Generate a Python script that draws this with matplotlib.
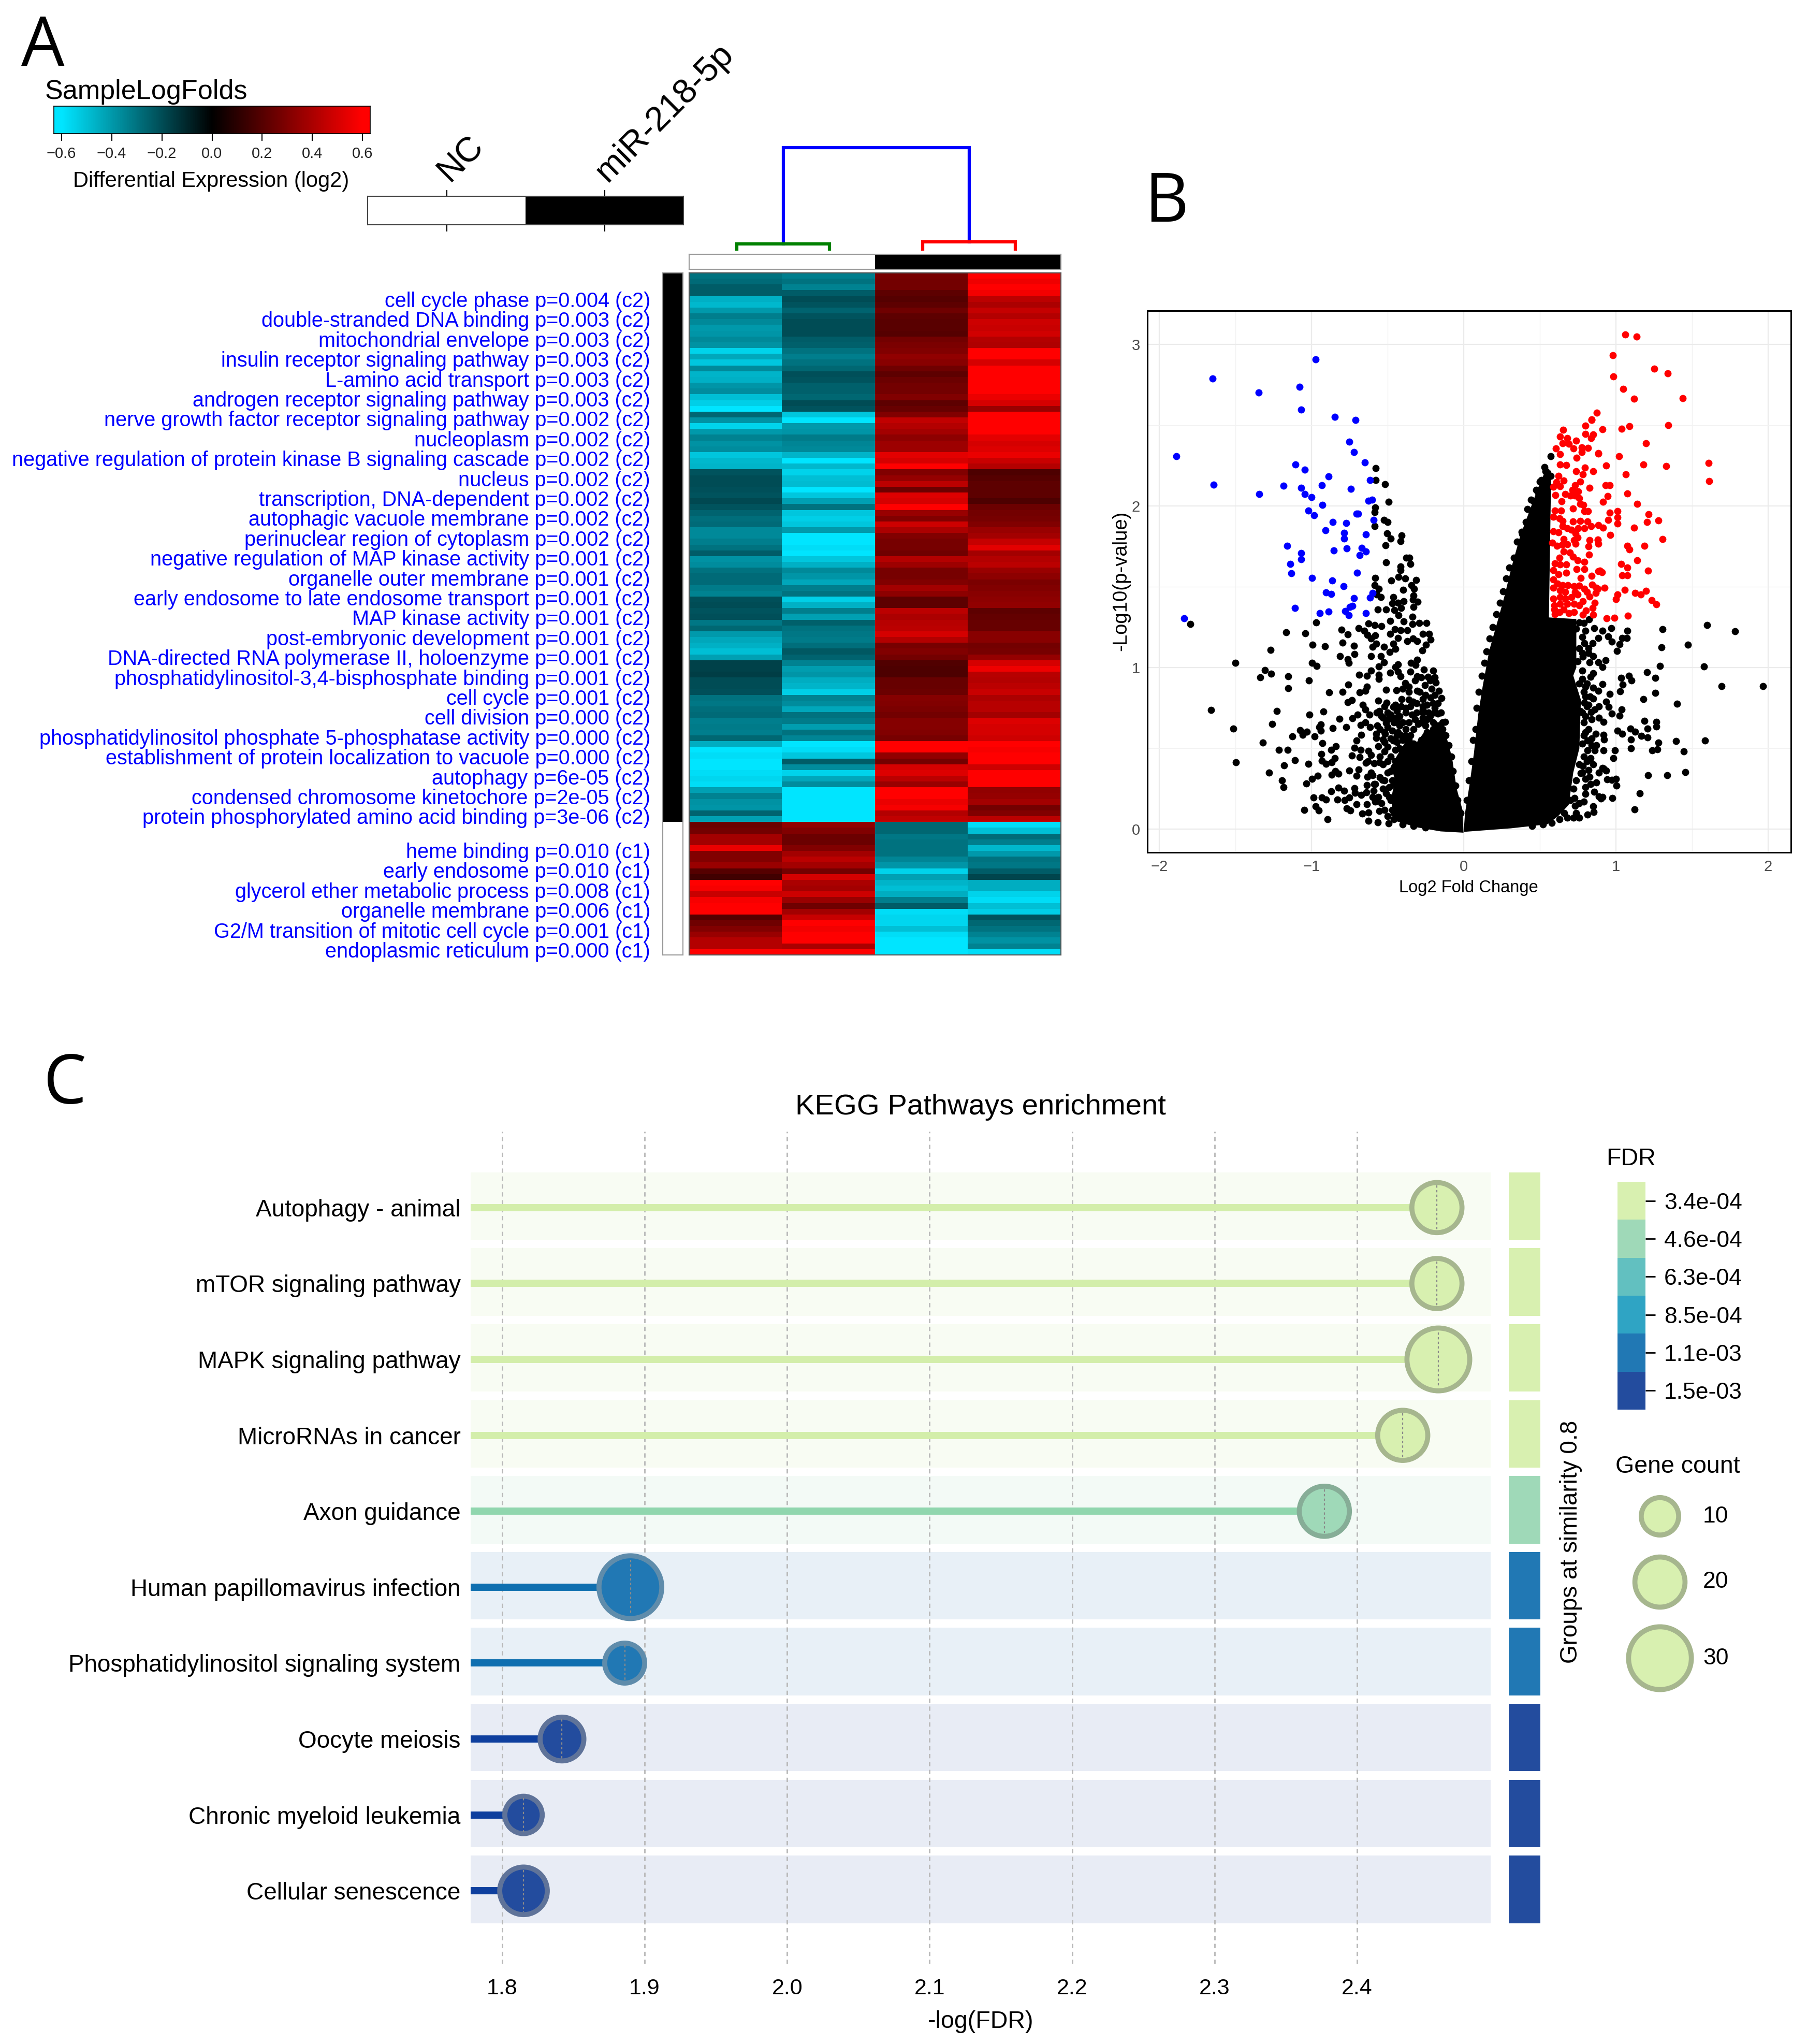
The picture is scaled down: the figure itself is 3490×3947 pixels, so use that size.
import matplotlib
matplotlib.use('Agg')
import matplotlib.pyplot as plt
from matplotlib.colors import LinearSegmentedColormap, ListedColormap
import numpy as np

plt.rcParams['font.family'] = ['Liberation Sans', 'DejaVu Sans']

W, H = 3490, 3947

# panel A
heat_labels_c2 = [
    'cell cycle phase p=0.004 (c2)', 'double-stranded DNA binding p=0.003 (c2)',
    'mitochondrial envelope p=0.003 (c2)', 'insulin receptor signaling pathway p=0.003 (c2)',
    'L-amino acid transport p=0.003 (c2)', 'androgen receptor signaling pathway p=0.003 (c2)',
    'nerve growth factor receptor signaling pathway p=0.002 (c2)', 'nucleoplasm p=0.002 (c2)',
    'negative regulation of protein kinase B signaling cascade p=0.002 (c2)', 'nucleus p=0.002 (c2)',
    'transcription, DNA-dependent p=0.002 (c2)', 'autophagic vacuole membrane p=0.002 (c2)',
    'perinuclear region of cytoplasm p=0.002 (c2)', 'negative regulation of MAP kinase activity p=0.001 (c2)',
    'organelle outer membrane p=0.001 (c2)', 'early endosome to late endosome transport p=0.001 (c2)',
    'MAP kinase activity p=0.001 (c2)', 'post-embryonic development p=0.001 (c2)',
    'DNA-directed RNA polymerase II, holoenzyme p=0.001 (c2)',
    'phosphatidylinositol-3,4-bisphosphate binding p=0.001 (c2)', 'cell cycle p=0.001 (c2)',
    'cell division p=0.000 (c2)', 'phosphatidylinositol phosphate 5-phosphatase activity p=0.000 (c2)',
    'establishment of protein localization to vacuole p=0.000 (c2)', 'autophagy p=6e-05 (c2)',
    'condensed chromosome kinetochore p=2e-05 (c2)', 'protein phosphorylated amino acid binding p=3e-06 (c2)',
]
heat_labels_c1 = [
    'heme binding p=0.010 (c1)', 'early endosome p=0.010 (c1)', 'glycerol ether metabolic process p=0.008 (c1)',
    'organelle membrane p=0.006 (c1)', 'G2/M transition of mitotic cell cycle p=0.001 (c1)',
    'endoplasmic reticulum p=0.000 (c1)',
]

nc1 = [-.3, -.28, -.24, -.24, -.46, -.48, -.4, -.33, -.36, -.4, -.39, -.36, -.38, -.55, -.44, -.52,
       -.36, -.47, -.46, -.39, -.37, -.5, -.54, -.6, -.27, -.38, -.55, -.4, -.34, -.38, -.37, -.52,
       -.48, -.47, -.22, -.2, -.2, -.21, -.22, -.19, -.22, -.26, -.29, -.28, -.36, -.36, -.33, -.3,
       -.24, -.38, -.37, -.3, -.28, -.28, -.32, -.34, -.21, -.2, -.22, -.21, -.31, -.27, -.4, -.44,
       -.46, -.5, -.42, -.17, -.17, -.16, -.2, -.2, -.21, -.3, -.31, -.29, -.28, -.33, -.32, -.33,
       -.27, -.45, -.6, -.58, -.6, -.6, -.58, -.56, -.58, -.42, -.34, -.38, -.39, -.26, -.42,
       .25, .27, .38, .38, .55, .3, .3, .36, .2, .15, .6, .58, .47, .58, .6, .6, .2, .26, .3, .36, .42, .42, .6]
nc2 = [-.33, -.3, -.34, -.24, -.2, -.22, -.26, -.22, -.2, -.2, -.2, -.24, -.25, -.3, -.33, -.3,
       -.27, -.21, -.22, -.25, -.25, -.27, -.2, -.22, -.52, -.6, -.4, -.39, -.32, -.35, -.36, -.47,
       -.6, -.48, -.55, -.5, -.49, -.6, -.52, -.42, -.3, -.52, -.54, -.52, -.4, -.6, -.6, -.58,
       -.6, -.52, -.46, -.36, -.39, -.44, -.33, -.3, -.54, -.46, -.33, -.42, -.25, -.3, -.31, -.32,
       -.29, -.23, -.26, -.34, -.41, -.39, -.45, -.47, -.54, -.34, -.37, -.44, -.3, -.32, -.41, -.3,
       -.35, -.6, -.58, -.52, -.24, -.37, -.55, -.44, -.37, -.6, -.6, -.6, -.6, -.6, -.6,
       .34, .3, .25, .25, .3, .38, .44, .38, .27, .5, .4, .38, .48, .36, .26, .38, .47, .6, .57, .6, .6, .4, .6]
mir1 = [.28, .27, .27, .22, .2, .22, .26, .22, .21, .21, .2, .27, .29, .3, .34, .32,
        .26, .22, .25, .27, .27, .3, .22, .24, .3, .45, .42, .38, .33, .37, .37, .53,
        .5, .6, .3, .35, .44, .25, .52, .5, .6, .36, .3, .48, .4, .3, .28, .28,
        .26, .42, .37, .28, .28, .3, .38, .33, .22, .22, .44, .4, .43, .44, .5, .42,
        .28, .3, .27, .19, .18, .18, .24, .24, .25, .31, .3, .29, .27, .31, .31, .3,
        .28, .6, .6, .34, .27, .5, .52, .44, .36, .6, .6, .55, .58, .42, .45,
        -.27, -.27, -.31, -.3, -.3, -.3, -.35, -.39, -.55, -.42, -.47, -.5, -.45, -.33, -.24, -.58, -.56, -.56, -.5, -.58, -.6, -.6, -.6]
mir2 = [.6, .56, .6, .57, .44, .4, .46, .42, .48, .47, .49, .42, .41, .6, .6, .5,
        .6, .6, .6, .6, .6, .55, .5, .36, .6, .6, .6, .6, .53, .5, .52, .55,
        .47, .42, .18, .2, .22, .22, .22, .18, .25, .27, .28, .3, .36, .38, .46, .53,
        .38, .42, .44, .36, .33, .29, .3, .32, .33, .34, .22, .23, .24, .24, .32, .32,
        .27, .28, .35, .5, .56, .43, .42, .44, .47, .4, .43, .43, .38, .52, .5, .5,
        .48, .6, .58, .6, .6, .48, .6, .6, .6, .34, .35, .38, .27, .3, .44,
        -.58, -.5, -.28, -.33, -.48, -.4, -.3, -.31, -.24, -.18, -.45, -.45, -.55, -.58, -.5, -.54, -.22, -.27, -.3, -.34, -.38, -.34, -.58]

row_cluster = [0] * 95 + [1] * 23
col_group = [1, 1, 0, 0]
sample_groups = [1, 0]
sample_names = ['NC', 'miR-218-5p']
cbar_ticks = [-0.6, -0.4, -0.2, 0.0, 0.2, 0.4, 0.6]

leaf_pos = [0.5, 1.5, 2.5, 3.5]
leaf_base = 0.04
merge_left = 0.086
merge_right = 0.105
merge_top = 0.932

# panel B
blue_pts = [(-.973, 2.907), (-1.65, 2.789), (-1.078, 2.738), (-1.348, 2.701), (-1.069, 2.596), (-.845, 2.551),
            (-.709, 2.532), (-.752, 2.397), (-.72, 2.333), (-1.888, 2.306), (-.651, 2.27), (-1.104, 2.255),
            (-1.043, 2.225), (-.889, 2.181), (-.616, 2.159), (-1.641, 2.132), (-.932, 2.127), (-1.182, 2.125),
            (-1.069, 2.113), (-.741, 2.105), (-1.342, 2.074), (-1.043, 2.074), (-.999, 2.054), (-.627, 2.032),
            (-.601, 2.039), (-.927, 2.005), (-1.02, 1.971), (-.982, 1.941), (-.703, 1.953), (-.693, 1.953),
            (-.593, 1.914), (-.86, 1.902), (-.773, 1.895), (-.909, 1.85), (-.787, 1.833), (-.787, 1.799),
            (-.642, 1.824), (-1.159, 1.752), (-.77, 1.738), (-.854, 1.725), (-.671, 1.74), (-.642, 1.718),
            (-.683, 1.694), (-1.069, 1.708), (-1.069, 1.669), (-1.139, 1.64), (-1.133, 1.583), (-.7, 1.588),
            (-.996, 1.556), (-.863, 1.539), (-.79, 1.502), (-.903, 1.466), (-.871, 1.456), (-.72, 1.431),
            (-.598, 1.461), (-.616, 1.434), (-.732, 1.382), (-.747, 1.375), (-1.107, 1.37), (-.944, 1.336),
            (-.886, 1.346), (-.778, 1.348), (-.755, 1.324), (-.642, 1.336), (-1.836, 1.306)]

red_outer = [(1.06, 3.061), (1.136, 3.049), (.979, 2.931), (.982, 2.801), (1.252, 2.848), (1.339, 2.821),
             (1.049, 2.723), (1.121, 2.662), (1.438, 2.667), (.874, 2.576), (.84, 2.534), (1.345, 2.5),
             (1.089, 2.493), (1.037, 2.478), (.799, 2.495), (.912, 2.473), (1.197, 2.387), (.883, 2.326),
             (1.02, 2.306), (1.182, 2.257), (.935, 2.25), (1.33, 2.248), (1.609, 2.267), (1.612, 2.154),
             (1.066, 2.194), (.932, 2.127), (.959, 2.127), (.828, 2.113), (1.075, 2.076), (.947, 2.061),
             (.915, 2.027), (1.139, 2.012), (.961, 1.958), (1.011, 1.968), (1.214, 1.949), (1.278, 1.909),
             (1.011, 1.929), (.95, 1.914), (1.011, 1.892), (1.206, 1.9), (1.118, 1.865), (.883, 1.882),
             (.915, 1.865), (.964, 1.819), (1.307, 1.794), (.88, 1.787), (1.188, 1.752), (1.075, 1.752),
             (1.089, 1.73), (1.139, 1.662), (1.034, 1.64), (1.075, 1.62), (1.211, 1.598), (1.04, 1.571),
             (1.075, 1.571), (.895, 1.6), (.909, 1.59), (.871, 1.493), (.924, 1.493), (1.057, 1.48),
             (1.197, 1.473), (1.127, 1.463), (1.162, 1.451), (1.011, 1.453), (.999, 1.424), (1.235, 1.417),
             (1.267, 1.392), (.938, 1.306), (.991, 1.309), (1.078, 1.321)]
red_dense = [(.654, 2.47), (.633, 2.428), (.682, 2.42), (.65, 2.388), (.69, 2.386), (.738, 2.404), (.722, 2.357),
             (.606, 2.357), (.775, 2.362), (.816, 2.359), (.776, 2.332), (.633, 2.321), (.743, 2.299), (.883, 2.324),
             (.798, 2.446), (.841, 2.533), (.849, 2.441), (.837, 2.419), (.633, 2.257), (.673, 2.253), (.796, 2.238),
             (.739, 2.213), (.852, 2.215), (.781, 2.195), (.624, 2.186), (.764, 2.151), (.658, 2.156), (.608, 2.148),
             (.588, 2.118), (.633, 2.123), (.733, 2.128), (.713, 2.098), (.752, 2.089), (.602, 2.067), (.667, 2.072),
             (.701, 2.064), (.73, 2.064), (.642, 2.03), (.76, 2.047), (.764, 2.014), (.786, 2.005), (.718, 1.985),
             (.599, 1.972), (.639, 1.972), (.792, 1.967), (.817, 1.968), (.588, 1.933), (.628, 1.922), (.65, 1.908),
             (.718, 1.905), (.764, 1.908), (.813, 1.905), (.837, 1.876), (.792, 1.863), (.752, 1.863), (.707, 1.854),
             (.679, 1.863), (.65, 1.876), (.59, 1.843), (.624, 1.838), (.735, 1.829), (.747, 1.804), (.724, 1.787),
             (.656, 1.796), (.582, 1.771), (.611, 1.754), (.645, 1.759), (.679, 1.762), (.735, 1.766), (.828, 1.787),
             (.881, 1.792), (.883, 1.766), (.82, 1.749), (.824, 1.699), (.656, 1.717), (.696, 1.712), (.718, 1.687),
             (.747, 1.662), (.792, 1.653), (.628, 1.678), (.599, 1.645), (.633, 1.637), (.673, 1.637), (.741, 1.608),
             (.792, 1.608), (.588, 1.603), (.622, 1.578), (.673, 1.586), (.769, 1.553), (.84, 1.568), (.883, 1.595),
             (.588, 1.544), (.616, 1.519), (.65, 1.511), (.684, 1.511), (.724, 1.502), (.758, 1.507), (.792, 1.486),
             (.843, 1.514), (.881, 1.486), (.588, 1.494), (.633, 1.477), (.667, 1.469), (.73, 1.469), (.809, 1.469),
             (.866, 1.46), (.828, 1.44), (.588, 1.427), (.633, 1.435), (.667, 1.427), (.707, 1.435), (.747, 1.452),
             (.781, 1.41), (.86, 1.402), (.594, 1.385), (.633, 1.393), (.679, 1.393), (.724, 1.393), (.758, 1.385),
             (.847, 1.368), (.599, 1.33), (.628, 1.343), (.656, 1.36), (.69, 1.335), (.724, 1.343), (.783, 1.326),
             (.803, 1.351), (.849, 1.326), (.594, 1.36)]

black_left = [(-.577, 2.235), (-.577, 2.16), (-.518, 2.135), (-.492, 2.026), (-.58, 1.989), (-.586, 1.96), (-.524, 1.913),
              (-.5, 1.9), (-.586, 1.875), (-.504, 1.83), (-.409, 1.818), (-.478, 1.799), (-.414, 1.781), (-.512, 1.757),
              (-.376, 1.679), (-.357, 1.679), (-.35, 1.64), (-.509, 1.652), (-.414, 1.625), (-.414, 1.603), (-.428, 1.56),
              (-.385, 1.55), (-.311, 1.543), (-.477, 1.54), (-.582, 1.553), (-.585, 1.511), (-.559, 1.486), (-.344, 1.511),
              (-.327, 1.486), (-.398, 1.481), (-.57, 1.452), (-.543, 1.436), (-.464, 1.436), (-.331, 1.444), (-.333, 1.419),
              (-.303, 1.407), (-.395, 1.41), (-.47, 1.399), (-.431, 1.402), (-.412, 1.369), (-.455, 1.357), (-.33, 1.374),
              (-.566, 1.36), (-.51, 1.36), (-.427, 1.325), (-.336, 1.313), (-.97, 1.28), (-1.797, 1.268), (-.482, 1.288),
              (-.393, 1.285), (-.624, 1.273), (-.585, 1.263), (-.542, 1.256), (-.292, 1.276), (-.246, 1.276), (-.337, 1.268),
              (-.691, 1.245), (-.803, 1.235), (-1.165, 1.219), (-1.042, 1.213), (-.654, 1.226), (-.453, 1.238), (-.414, 1.231),
              (-.372, 1.23), (-.483, 1.208), (-.763, 1.204), (-.633, 1.201), (-.581, 1.198), (-.608, 1.179), (-.431, 1.184),
              (-.372, 1.162), (-.333, 1.179), (-.307, 1.162), (-.268, 1.209), (-.229, 1.209), (-.216, 1.173), (-.249, 1.142),
              (-.797, 1.154), (-.992, 1.142), (-.91, 1.131), (-.721, 1.134), (-.573, 1.149), (-.6, 1.129), (-.525, 1.129),
              (-.464, 1.146), (-.448, 1.117), (-.271, 1.107), (-.486, 1.097), (-1.27, 1.11), (-.718, 1.084), (-.813, 1.072),
              (-.607, 1.072), (-.544, 1.072), (-.763, 1.05), (-.754, 1.03), (-1.501, 1.03), (-.997, 1.03), (-.965, 1.01),
              (-.525, 1.033), (-.557, 1.008), (-.307, 1.047), (-.346, 1.03), (-.316, 1.017), (-.431, 1.02), (-.448, 1.003),
              (-1.307, .983), (-1.266, .961), (-1.335, .94), (-1.152, .945), (-.686, .956), (-.635, .95), (-.608, .98),
              (-.557, .955), (-.557, .93), (-.483, .968), (-.431, .975), (-.414, .945), (-1.017, .92), (-1.152, .871),
              (-.758, .894), (-.884, .847), (-.797, .851), (-.685, .846), (-.637, .883), (-.646, .857), (-.51, .861),
              (-.443, .859), (-.385, .903), (-.349, .975), (-.262, .988), (-.2, .98), (-.307, .945), (-.236, .941),
              (-.36, .883), (-.307, .857), (-.255, .891), (-.184, .908), (-.164, .857), (-.561, .795), (-.763, .785),
              (-.733, .799), (-.505, .782), (-.409, .804), (-.333, .79), (-.268, .804), (-.145, .811), (-.216, .815),
              (-1.661, .737), (-1.228, .732), (-.923, .727), (-1.012, .71), (-.663, .769), (-.646, .74), (-.698, .707),
              (-.62, .707), (-.555, .732), (-.464, .757), (-.379, .749), (-.268, .74), (-.171, .715), (-.815, .683),
              (-.731, .687), (-.529, .69), (-.438, .69), (-.268, .69), (-1.258, .65), (-.939, .648), (-.949, .63),
              (-1.512, .623), (-.861, .625), (-.773, .63), (-.678, .645), (-.646, .661), (-.617, .631), (-.568, .64),
              (-.509, .656), (-.121, .665), (-1.076, .613), (-1.03, .603), (-1.056, .584), (-.939, .609), (-1.124, .573),
              (-.98, .573), (-.672, .583), (-.574, .589), (-.516, .589), (-.574, .564), (-.529, .556), (-.464, .547),
              (-.385, .581), (-1.319, .536), (-.928, .531), (-.704, .547), (-.561, .514), (-.841, .514), (-.872, .492),
              (-1.214, .492), (-1.155, .492), (-.717, .502), (-.678, .489), (-.626, .484), (-.609, .459), (-.935, .465),
              (-.736, .454), (-.682, .447), (-1.109, .427), (-.932, .422), (-.846, .438), (-.867, .413), (-.906, .405),
              (-1.496, .413), (-1.021, .405), (-1.18, .393), (-.643, .41), (-.587, .408), (-.555, .413), (-.691, .368),
              (-1.277, .351), (-.753, .363), (-.844, .358), (-.866, .338), (-.824, .343), (-.958, .33), (-.704, .33),
              (-.633, .325), (-.6, .335), (-.997, .311), (-1.193, .303), (-1.033, .283), (-1.182, .261), (-.636, .271),
              (-.587, .279), (-.535, .304), (-.717, .254), (-.822, .257), (-.87, .234), (-.786, .237), (-.59, .237),
              (-.714, .226), (-.987, .195), (-.932, .195), (-.906, .182), (-.828, .182), (-.783, .179), (-.75, .195),
              (-.672, .212), (-.639, .229), (-.971, .14), (-.952, .117), (-1.048, .12), (-.77, .127), (-.744, .115),
              (-.704, .154), (-.636, .154), (-.581, .17), (-.665, .095), (-.626, .103), (-.555, .112), (-.895, .061),
              (-.626, .053), (-.565, .043), (-.492, .036), (-.509, .22),
              (-.52, .76), (-.5, .72), (-.48, .71), (-.44, .73), (-.42, .7), (-.4, .66), (-.46, .66), (-.5, .63),
              (-.43, .6), (-.47, .61), (-.38, .62), (-.35, .58), (-.33, .62), (-.3, .65), (-.25, .64), (-.2, .66),
              (-.23, .72), (-.2, .78), (-.27, .76), (-.31, .78), (-.36, .8), (-.38, .72), (-.34, .71), (-.29, .85),
              (-.25, .83), (-.21, .87), (-.19, .83), (-.17, .78), (-.15, .72), (-.14, .66), (-.16, .61), (-.32, .92),
              (-.28, .94), (-.22, .92), (-.19, .94), (-.36, .85), (-.4, .87), (-.44, .54), (-.55, .45), (-.52, .48),
              (-.5, .51), (-.48, .45), (-.45, .42), (-.53, .4), (-.5, .35), (-.55, .32), (-.47, .3), (-.53, .25),
              (-.48, .18), (-.52, .12), (-.46, .1), (-.56, .2), (-.6, .2), (-.45, .49), (-.42, .5), (-.4, .55),
              (-.57, .72), (-.54, .7), (-.5, .68), (-.47, .69), (-.44, .66), (-.42, .64), (-.55, .62), (-.52, .6),
              (-.48, .56), (-.44, .58), (-.41, .58), (-.36, .66), (-.32, .68), (-.28, .66), (-.24, .68), (-.22, .7),
              (-.19, .72), (-.31, .72), (-.27, .72), (-.24, .77), (-.19, .75), (-.35, .76), (-.41, .76), (-.45, .77),
              (-.52, .54), (-.5, .42), (-.46, .38), (-.52, .3), (-.49, .26), (-.54, .16), (-.5, .08), (-.58, .28),
              (-.61, .35), (-.63, .42),
              (-.02, .1), (-.04, .18), (-.055, .27), (-.07, .36), (-.08, .45), (-.1, .52), (-.12, .58), (-.14, .62),
              (-.17, .64), (-.2, .62), (-.24, .6), (-.28, .55), (-.33, .53), (-.36, .55), (-.4, .48), (-.44, .42),
              (-.48, .36), (-.46, .28), (-.49, .2), (-.47, .12), (-.46, .06), (-.4, .03), (-.33, .02), (-.25, .01)]

black_right = [(.571, 2.309), (.54, 2.215), (.571, 2.185), (.537, 2.213), (.511, 2.159), (.488, 2.086), (.442, 2.037),
               (.386, 1.828), (1.308, 1.236), (1.598, 1.264), (1.782, 1.224), (1.472, 1.14), (1.298, 1.124), (1.29, 1.01),
               (1.58, 1.006), (1.206, .971), (1.259, .937), (1.036, .937), (1.084, .949), (1.104, .921), (1.045, .894),
               (1.027, .854), (1.695, .884), (1.968, .884), (1.26, .843), (.961, .837), (1.181, .803), (1.4, .777),
               (.935, .79), (.951, .756), (.974, .715), (1.039, .74), (1.025, .701), (1.186, .669), (1.266, .664),
               (1.266, .636), (1.209, .622), (1.01, .609), (1.042, .589), (1.096, .622), (1.127, .602), (1.166, .577),
               (1.207, .567), (1.1, .555), (1.28, .535), (1.396, .544), (1.587, .547), (1.1, .5), (1.238, .488),
               (1.274, .493), (1.447, .48), (.993, .487), (.985, .44), (1.21, .332), (1.337, .334), (1.455, .354),
               (1.004, .27), (.974, .304), (.943, .309), (1.002, .312), (.977, .193), (1.158, .22), (1.123, .123),
               (.917, .374), (.888, .351), (.911, .379), (.937, .361), (.911, .2), (.888, .203), (.903, .19),
               (.871, .289), (.858, .23), (.798, .219), (.849, .14), (.854, .106), (.813, .089), (.758, .071),
               (.733, .143), (.727, .192), (.82, .367), (.826, .325), (.781, .39), (.769, .345), (.798, .261),
               (.832, .279), (.917, .664), (.888, .689), (.86, .74), (.888, .76), (.837, .723), (.792, .781),
               (.764, .731), (.866, .589), (.917, .585), (.922, .555), (.813, .547), (.917, .488), (.86, .488),
               (.832, .44), (.813, .488), (.911, .899), (.883, .857), (.849, .874), (.849, .807), (.832, .941),
               (.798, .882), (.933, 1.046), (.883, 1.033), (.911, 1.004), (.849, 1.071), (.826, 1.033), (.849, .966),
               (.783, 1.066), (.911, 1.227), (.858, 1.243), (.883, 1.184), (.847, 1.15), (.949, 1.192), (.974, 1.159),
               (.971, 1.243), (1.025, 1.145), (1.008, 1.103), (1.042, 1.184), (1.076, 1.226), (1.072, 1.184),
               (.824, 1.298), (.79, 1.276), (.798, 1.226), (.792, 1.15),
               (.02, .18), (.035, .3), (.05, .42), (.06, .55), (.08, .62), (.085, .75), (.1, .85), (.12, .95),
               (.135, 1.03), (.15, 1.1), (.17, 1.18), (.19, 1.25), (.215, 1.33), (.24, 1.4), (.26, 1.47), (.28, 1.55),
               (.3, 1.62), (.33, 1.68), (.35, 1.78), (.38, 1.84), (.41, 1.9), (.42, 1.98), (.46, 2.03), (.475, 2.1),
               (.5, 2.15), (.53, 2.24),
               (.76, 1.28), (.74, 1.24), (.78, 1.19), (.76, 1.12), (.75, 1.04), (.78, .98), (.76, .9), (.8, .82),
               (.82, .77), (.79, .66), (.8, .6), (.78, .53), (.79, .45), (.76, .4), (.74, .3), (.72, .25), (.7, .18),
               (.66, .1), (.63, .06), (.58, .04), (.52, .03), (.45, .02),
               (.78, .93), (.81, .9), (.79, .85), (.83, .82), (.81, .76), (.84, .68), (.8, .7), (.78, .72), (.82, .62),
               (.79, .58), (.84, .56), (.87, .52), (.84, .52), (.81, .42), (.85, .4), (.78, .35), (.8, .31), (.79, .17),
               (.76, .16), (.74, .1), (.72, .07), (.68, .07), (.82, 1.12), (.78, 1.09), (.82, 1.09)]

# outlines of the areas where the dots merge into solid black
solid_left_x = [-.001, -.008, -.047, -.073, -.093, -.125, -.177, -.255, -.307, -.372, -.438, -.477, -.451, -.477, -.457, -.307, -.151]
solid_left_y = [-.022, .12, .254, .422, .506, .606, .623, .606, .539, .556, .455, .388, .304, .187, .053, .011, -.014]
solid_right_x = [0, .009, .038, .067, .096, .125, .168, .227, .27, .314, .372, .43, .488, .532, .575, .56, .74, .74, .72, .77, .76, .72, .69, .62, .55, .31]
solid_right_y = [-.017, .1, .272, .468, .713, .885, 1.105, 1.301, 1.449, 1.62, 1.816, 1.963, 2.11, 2.208, 2.22, 1.31, 1.3, 1.0, .95, .8, .5, .35, .15, .08, .03, .005]

# panel C
pathways = ['Autophagy - animal', 'mTOR signaling pathway', 'MAPK signaling pathway', 'MicroRNAs in cancer', 'Axon guidance',
            'Human papillomavirus infection', 'Phosphatidylinositol signaling system', 'Oocyte meiosis',
            'Chronic myeloid leukemia', 'Cellular senescence']
neg_log_fdr = [2.456, 2.456, 2.457, 2.432, 2.377, 1.89, 1.886, 1.842, 1.815, 1.815]
gene_count = [20, 20, 30, 20, 20, 30, 12, 15, 10, 18]
fdr_level = [0, 0, 0, 0, 1, 4, 4, 5, 5, 5]
fdr_colors = ['#d8f0b0', '#9fd9b8', '#62c0c0', '#2fa4c4', '#2178b4', '#234c9e']
fdr_stems = ['#d3eeaa', '#90d6ae', '#55bcbc', '#22a0c0', '#0f6fb0', '#0e3f9e']
fdr_edges = ['#a6b68e', '#86ad97', '#70a0a0', '#5a96ad', '#5f8cab', '#5f7399']
band_colors = ['#f8fcf3', '#f3faf6', '#f0f8f9', '#ebf6f9', '#e8f0f7', '#e8ecf5']
fdr_ticks = ['3.4e-04', '4.6e-04', '6.3e-04', '8.5e-04', '1.1e-03', '1.5e-03']
count_legend = [10, 20, 30]


def ax_px(x0, y0, x1, y1):
    return fig.add_axes([x0 / W, 1 - y1 / H, (x1 - x0) / W, (y1 - y0) / H])


def txt_px(x, y, s, **kw):
    return fig.text(x / W, 1 - y / H, s, **kw)


def bubble_area(count, width=7.0):
    # diameter in px grows with count, minus the edge that is drawn on top
    dia = 57.5 + 2.45 * np.asarray(count, dtype=float)
    return (dia * 0.72 - width) ** 2


fig = plt.figure(figsize=(W / 100, H / 100), dpi=100)
cmap = LinearSegmentedColormap.from_list('cb', ['#00e5ff', '#000000', '#ff0000'])
bw = ListedColormap(['black', 'white'])
border = '#9a9a9a'

txt_px(83, 93, 'A', fontsize=95, family='Open Sans', ha='center', va='center')
txt_px(2253, 394, 'B', fontsize=95, family='Open Sans', ha='center', va='center')
txt_px(126, 2097, 'C', fontsize=95, family='Open Sans', ha='center', va='center')

# colour key
ax = ax_px(104, 205, 715, 258)
ax.imshow(np.linspace(-.63, .63, 400)[None, :], cmap=cmap, vmin=-.6, vmax=.6, aspect='auto', extent=[-.63, .63, 0, 1])
ax.set_yticks([])
ax.set_xticks(cbar_ticks)
ax.set_xticklabels([('%.1f' % t).replace('-', '\u2212') for t in cbar_ticks], fontsize=21, color='#222222')
ax.tick_params(axis='x', length=10, width=1.5, pad=8)
for s in ax.spines.values():
    s.set_linewidth(1.2)
txt_px(87, 177, 'SampleLogFolds', fontsize=37.5, va='center')
txt_px(408, 350, 'Differential Expression (log2)', fontsize=30, ha='center', va='center')

# sample bar
ax = ax_px(710, 379, 1320, 434)
ax.imshow([sample_groups], cmap=bw, vmin=0, vmax=1, aspect='auto', extent=[0, 2, 0, 1])
ax.set_yticks([])
ax.set_xticks([0.5, 1.5])
ax.set_xticklabels([])
ax.tick_params(axis='x', length=9, width=1.5, top=True, bottom=True)
for s in ax.spines.values():
    s.set_color('#444444')
    s.set_linewidth(1.5)
for i, name in enumerate(sample_names):
    ax.text(i + 0.5 + 0.05, 1.3, name, fontsize=48, rotation=45, rotation_mode='anchor', ha='left', va='bottom', clip_on=False)

# dendrogram
ax = ax_px(1333, 270, 2051, 490)
ax.set_xlim(0, 4)
ax.set_ylim(0, 1)
ax.axis('off')
mid_l = (leaf_pos[0] + leaf_pos[1]) / 2
mid_r = (leaf_pos[2] + leaf_pos[3]) / 2
ax.plot([mid_l, mid_l, mid_r, mid_r], [merge_left, merge_top, merge_top, merge_right], color='#0000ff', lw=4.5, solid_joinstyle='miter')
ax.plot([leaf_pos[0], leaf_pos[0], leaf_pos[1], leaf_pos[1]], [leaf_base, merge_left, merge_left, leaf_base], color='#008000', lw=4.5, solid_joinstyle='miter')
ax.plot([leaf_pos[2], leaf_pos[2], leaf_pos[3], leaf_pos[3]], [leaf_base, merge_right, merge_right, leaf_base], color='#ff0000', lw=4.5, solid_joinstyle='miter')

# group bars and heatmap
ax = ax_px(1331, 491, 2049, 520)
ax.imshow([col_group], cmap=bw, vmin=0, vmax=1, aspect='auto')
ax.set_xticks([])
ax.set_yticks([])
for s in ax.spines.values():
    s.set_color(border)
    s.set_linewidth(1.5)

ax = ax_px(1280, 527, 1319, 1844)
ax.imshow(np.array(row_cluster)[:, None], cmap=bw, vmin=0, vmax=1, aspect='auto', interpolation='nearest')
ax.set_xticks([])
ax.set_yticks([])
for s in ax.spines.values():
    s.set_color(border)
    s.set_linewidth(1.5)

ax = ax_px(1331, 527, 2049, 1844)
ax.imshow(np.array([nc1, nc2, mir1, mir2]).T, cmap=cmap, vmin=-.6, vmax=.6, aspect='auto', interpolation='nearest')
ax.set_xticks([])
ax.set_yticks([])
for s in ax.spines.values():
    s.set_color('#555555')
    s.set_linewidth(1.5)

for i, lab in enumerate(heat_labels_c2):
    txt_px(1256, 582 + 38.4 * i, lab, fontsize=28.5, color='#0000ff', ha='right', va='center')
for i, lab in enumerate(heat_labels_c1):
    txt_px(1256, 1646 + 38.4 * i, lab, fontsize=28.5, color='#0000ff', ha='right', va='center')

# volcano
ax = ax_px(2216, 600, 3459, 1646)
ax.set_xlim(-2.078, 2.15)
ax.set_ylim(-.144, 3.208)
ax.set_xticks([-2, -1, 0, 1, 2])
ax.set_yticks([0, 1, 2, 3])
ax.set_xticks([-1.5, -.5, .5, 1.5], minor=True)
ax.set_yticks([.5, 1.5, 2.5], minor=True)
ax.grid(True, which='major', color='#ebebeb', lw=1.6)
ax.grid(True, which='minor', color='#f2f2f2', lw=1)
ax.set_axisbelow(True)
ax.tick_params(which='both', length=0)
ax.tick_params(labelsize=21, labelcolor='#4d4d4d', pad=10)
for s in ax.spines.values():
    s.set_linewidth(2.2)
ax.fill(solid_left_x, solid_left_y, color='black', lw=0, zorder=2)
ax.fill(solid_right_x, solid_right_y, color='black', lw=0, zorder=2)
for pts, col in [(black_left, 'black'), (black_right, 'black'), (blue_pts, '#0000ff'), (red_outer, '#ff0000'), (red_dense, '#ff0000')]:
    xs, ys = zip(*pts)
    ax.scatter(xs, ys, s=100, color=col, linewidths=0, zorder=3)
txt_px(2836, 1714, 'Log2 Fold Change', fontsize=23.5, ha='center', va='center')
txt_px(2165, 1122, '-Log10(p-value)', fontsize=27.5, rotation=90, ha='center', va='center')

# KEGG lollipops
ylim = (9.98, -.982)
xlim = (1.7779, 2.4937)
ax = ax_px(909, 2185, 2879, 3792)
ax.set_xlim(*xlim)
ax.set_ylim(*ylim)
for s in ax.spines.values():
    s.set_visible(False)
rows = np.arange(len(pathways))
ax.barh(rows, xlim[1] - xlim[0], left=xlim[0], height=.89, color=[band_colors[k] for k in fdr_level], zorder=1)
ax.xaxis.grid(True, color='#b8b8b8', ls=(0, (3, 2.5)), lw=2, zorder=2)
ax.set_axisbelow(False)
ax.set_xticks(np.arange(1.8, 2.41, .1))
ax.set_xticklabels(['%.1f' % t for t in np.arange(1.8, 2.41, .1)])
ax.set_yticks(rows + .02)
ax.set_yticklabels(pathways)
ax.tick_params(length=0)
ax.tick_params(axis='y', labelsize=33, pad=14)
ax.tick_params(axis='x', labelsize=31, pad=20)
ax.set_xlabel('-log(FDR)', fontsize=33.5, labelpad=16)
ax.set_title('KEGG Pathways enrichment', fontsize=40.5, pad=24)
ax.hlines(rows + .02, xlim[0], neg_log_fdr, colors=[fdr_stems[k] for k in fdr_level], lw=10, zorder=3)
# thin white rim round each bubble, then the bubble itself
ax.scatter(neg_log_fdr, rows + .02, s=bubble_area(gene_count, width=3.0), c='white', linewidths=0, zorder=3.5)
ax.scatter(neg_log_fdr, rows + .02, s=bubble_area(gene_count), c=[fdr_colors[k] for k in fdr_level],
           edgecolors=[fdr_edges[k] for k in fdr_level], linewidths=7, zorder=4)
half = (57.5 + 2.45 * np.array(gene_count)) / 2 / 146.6 * .8
ax.vlines(neg_log_fdr, rows + .02 - half, rows + .02 + half, colors='#8a8a8a', ls=(0, (2, 2)), lw=1.6, zorder=5)

ax = ax_px(2914, 2185, 2975, 3792)
ax.set_xlim(0, 1)
ax.set_ylim(*ylim)
ax.axis('off')
ax.barh(rows, 1, height=.89, color=[fdr_colors[k] for k in fdr_level])
txt_px(3034, 2977, 'Groups at similarity 0.8', fontsize=33, rotation=90, ha='center', va='center')

# FDR legend
ax = ax_px(3124, 2282, 3178, 2722)
ax.imshow(np.arange(6)[:, None], cmap=ListedColormap(fdr_colors), aspect='auto')
ax.set_xticks([])
ax.yaxis.tick_right()
ax.set_yticks(range(6))
ax.set_yticklabels(fdr_ticks, fontsize=32)
ax.tick_params(axis='y', length=14, width=2, pad=12)
for s in ax.spines.values():
    s.set_visible(False)
txt_px(3150, 2238, 'FDR', fontsize=33.5, ha='center', va='center')
txt_px(3240, 2832, 'Gene count', fontsize=33.5, ha='center', va='center')

# gene count legend
ax = ax_px(3100, 2860, 3400, 3280)
ax.set_xlim(0, 300)
ax.set_ylim(420, 0)
ax.axis('off')
legend_y = [68, 195, 342]
ax.scatter([106] * 3, legend_y, s=bubble_area(count_legend), color=fdr_colors[0], edgecolors=fdr_edges[0], linewidths=7)
for c, yy in zip(count_legend, legend_y):
    ax.text(189, yy, str(c), fontsize=32, va='center', ha='left')

fig.savefig('out.png', dpi=100, facecolor='white')
